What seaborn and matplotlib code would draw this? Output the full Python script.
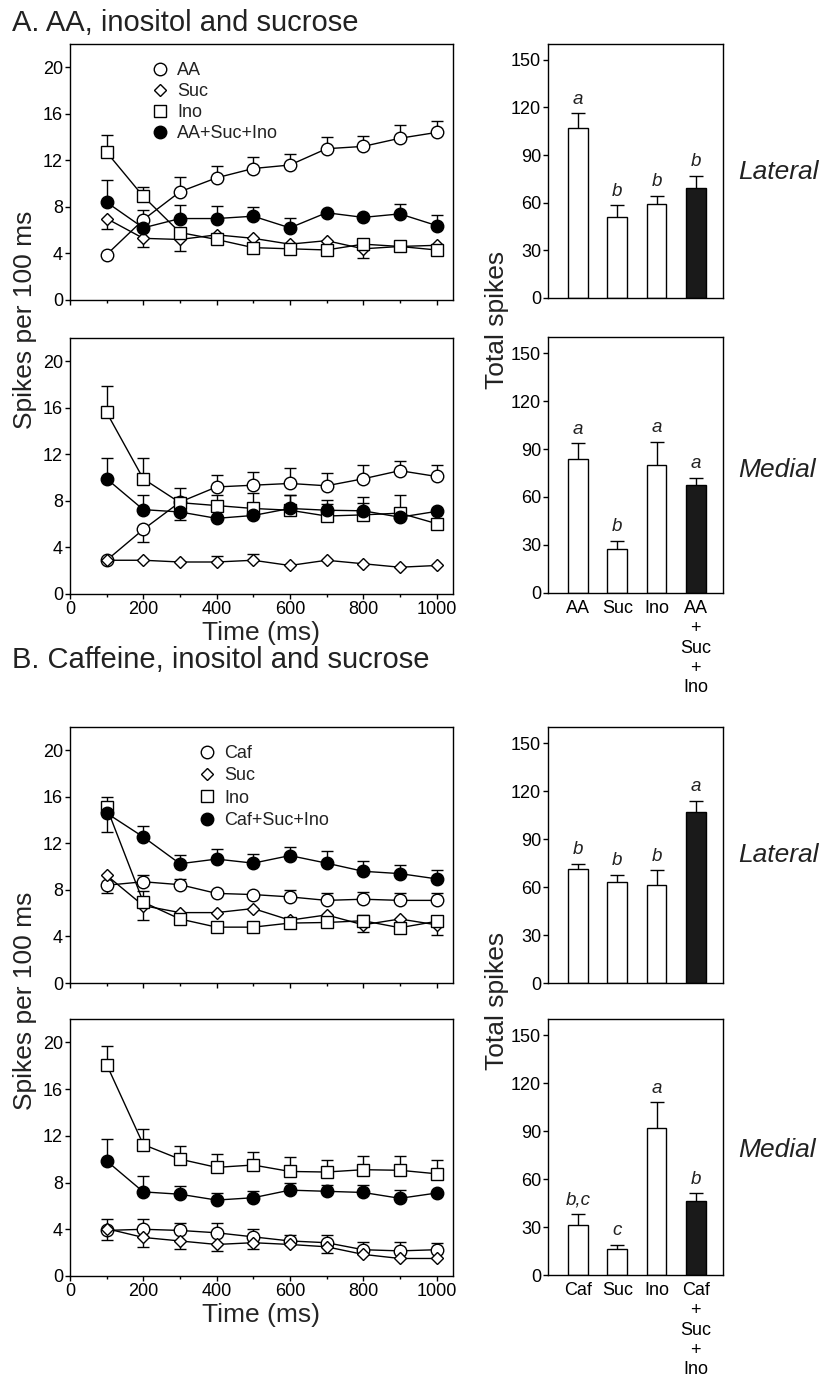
from matplotlib import pyplot as plt
from matplotlib.lines import Line2D
import numpy as np
import pandas as pd
import seaborn as sns

sns.set_style('ticks')
plt.rcParams['font.family'] = ['Liberation Sans', 'DejaVu Sans']
plt.rcParams['axes.edgecolor'] = 'black'
plt.rcParams['axes.linewidth'] = 1.0
plt.rcParams['xtick.color'] = 'black'
plt.rcParams['ytick.color'] = 'black'
plt.rcParams['text.color'] = '#222222'

time = [100, 200, 300, 400, 500, 600, 700, 800, 900, 1000]

# --- A: AA, inositol and sucrose (errors: + up, - down) ---
aa_lat = [3.9, 6.9, 9.3, 10.5, 11.3, 11.6, 13.0, 13.2, 13.9, 14.4]
aa_lat_err = [0, 0.85, 1.3, 1.05, 0.95, 0.95, 1.0, 0.9, 1.1, 0.95]
sucA_lat = [7.0, 5.3, 5.2, 5.6, 5.3, 4.8, 5.1, 4.4, 4.6, 4.7]
sucA_lat_err = [-0.9, -0.75, -1.0, 0, 0, 0, 0, -0.8, 0, 0]
inoA_lat = [12.7, 8.9, 5.8, 5.2, 4.5, 4.4, 4.3, 4.8, 4.6, 4.3]
inoA_lat_err = [1.5, 0.8, 0, 0, 0, 0, 0, 0, 0, 0]
mixA_lat = [8.4, 6.2, 7.0, 7.0, 7.2, 6.2, 7.5, 7.1, 7.4, 6.4]
mixA_lat_err = [1.9, 0, 1.15, 1.05, 0.8, 0.85, 0, 0, 0.85, 0.9]

aa_med = [2.9, 5.55, 7.9, 9.2, 9.35, 9.5, 9.3, 9.9, 10.6, 10.1]
aa_med_err = [0, -1.05, 0, 1.0, 1.15, 1.3, 1.1, 1.15, 0.85, 0.95]
sucA_med = [2.9, 2.9, 2.75, 2.75, 2.9, 2.45, 2.9, 2.6, 2.3, 2.45]
sucA_med_err = [0, 0, 0, 0.5, 0.5, 0, 0, 0, 0, 0]
inoA_med = [15.6, 9.9, 7.85, 7.6, 7.35, 7.2, 6.7, 6.8, 6.95, 6.05]
inoA_med_err = [2.3, 1.8, 1.3, 0.9, 1.3, 1.3, 1.0, 1.0, 1.6, 0]
mixA_med = [9.9, 7.25, 7.05, 6.5, 6.75, 7.35, 7.2, 7.15, 6.6, 7.1]
mixA_med_err = [1.8, 1.3, -0.7, 0, 0, 1.2, 0.9, 1.2, 0, 0]

# --- B: caffeine, inositol and sucrose ---
caf_lat = [8.4, 8.7, 8.45, 7.7, 7.6, 7.4, 7.1, 7.2, 7.1, 7.1]
caf_lat_err = [-0.7, 0.6, 0.5, 0, 0, 0.55, 0.6, 0.6, 0.6, 0.65]
sucB_lat = [9.25, 6.65, 6.05, 6.05, 6.4, 5.4, 5.85, 5.0, 5.5, 5.0]
sucB_lat_err = [0, -1.25, 0, 0, 0, 0, 0, -0.65, 0, -0.85]
inoB_lat = [15.1, 6.95, 5.5, 4.8, 4.8, 5.15, 5.2, 5.35, 4.75, 5.3]
inoB_lat_err = [0.85, 0.95, 0, 0, 0, 0, 0, 0.5, 0, 0]
mixB_lat = [14.6, 12.55, 10.25, 10.65, 10.3, 10.95, 10.3, 9.6, 9.4, 8.95]
mixB_lat_err = [-1.6, 0.95, 0.75, 0.9, 0.8, 0.75, 1.05, 0.9, 0.7, 0.75]

caf_med = [3.9, 4.0, 3.9, 3.7, 3.35, 3.0, 2.85, 2.25, 2.15, 2.25]
caf_med_err = [-0.85, 0.85, 0.65, 0.8, 0.65, 0.55, 0.65, 0.65, 0.75, 0.6]
sucB_med = [4.05, 3.3, 3.0, 2.7, 2.85, 2.7, 2.5, 1.85, 1.5, 1.5]
sucB_med_err = [0.85, -0.85, -0.65, -0.55, -0.55, 0, -0.55, 0, 0, 0]
inoB_med = [18.1, 11.25, 10.0, 9.3, 9.5, 8.95, 8.9, 9.1, 9.05, 8.75]
inoB_med_err = [1.55, 1.3, 1.1, 1.15, 1.1, 1.25, 1.05, 1.15, 1.2, 1.15]
mixB_med = [9.85, 7.2, 7.0, 6.5, 6.7, 7.35, 7.25, 7.15, 6.65, 7.1]
mixB_med_err = [1.85, 1.35, 0.7, 0.6, 0.55, 0.65, 0.5, 0.65, 0.7, 0]

# --- total spikes ---
condA = ['AA', 'Suc', 'Ino', 'AA\n+\nSuc\n+\nIno']
condB = ['Caf', 'Suc', 'Ino', 'Caf\n+\nSuc\n+\nIno']
totA_lat = [107, 51, 59, 69]
totA_lat_err = [9.5, 7.5, 5.5, 8]
totA_lat_let = ['a', 'b', 'b', 'b']
totA_med = [83.5, 27.5, 80, 67.5]
totA_med_err = [10, 5, 14.5, 4.5]
totA_med_let = ['a', 'b', 'a', 'a']
totB_lat = [71, 63, 61, 107]
totB_lat_err = [3.5, 4.5, 9.5, 7]
totB_lat_let = ['b', 'b', 'b', 'a']
totB_med = [31, 16.5, 92, 46.5]
totB_med_err = [7, 2.5, 16, 4.5]
totB_med_let = ['b,c', 'c', 'a', 'b']

W, H = 825, 1381
fig = plt.figure(figsize=(W / 100, H / 100), dpi=100)


def box(l, t, r, b):
    return [l / W, 1 - b / H, (r - l) / W, (b - t) / H]


styles = [('o', 9, 'white'), ('D', 6.5, 'white'), ('s', 8, 'white'), ('o', 9, 'black')]


def err_bars(ax, x, y, err, cap, z):
    x = np.asarray(x, float)
    y = np.asarray(y, float)
    err = np.asarray(err, float)
    up = np.clip(err, 0, None)
    dn = np.clip(-err, 0, None)
    ax.errorbar(x, y, yerr=[dn, up], fmt='none', ecolor='black',
                elinewidth=1, capsize=0, zorder=z)
    for sel, ends in [(up > 0, y + up), (dn > 0, y - dn)]:
        ax.plot(x[sel], ends[sel], ls='none', marker='_', ms=cap,
                mew=1, color='black', zorder=z)


def line_panel(ax, series, show_x):
    for (y, err), (mk, ms, face) in zip(series, styles):
        err_bars(ax, time, y, err, 9, 2)
        sns.lineplot(x=time, y=y, ax=ax, color='black', linewidth=1,
                     marker=mk, markersize=ms, markerfacecolor=face,
                     markeredgecolor='black', markeredgewidth=1,
                     errorbar=None, legend=False, zorder=3)
    ax.set_xlim(0, 1045)
    ax.set_ylim(0, 22)
    ax.set_xticks(range(0, 1001, 200))
    ax.set_xticks(range(100, 1000, 200), minor=True)
    ax.set_yticks(range(0, 21, 4))
    ax.tick_params(axis='both', which='major', length=3.5, width=1,
                   labelsize=13, pad=1.5)
    ax.tick_params(axis='x', which='minor', length=2.2, width=1)
    ax.tick_params(labelbottom=show_x)
    if show_x:
        ax.set_xlabel('Time (ms)', fontsize=19, labelpad=2)


def legend_panel(ax, names, x0, y0, gap):
    handles = [Line2D([], [], ls='none', marker=mk, ms=ms, mfc=face,
                      mec='black', mew=1) for mk, ms, face in styles]
    ax.legend(handles, names, loc='upper left', bbox_to_anchor=(x0, y0),
              frameon=False, fontsize=13, handlelength=1.0,
              handletextpad=0.45, labelspacing=gap, borderpad=0,
              borderaxespad=0)


def bar_panel(ax, conds, vals, errs, letters, show_x):
    df = pd.DataFrame({'cond': conds, 'val': vals})
    pal = dict(zip(conds, ['white', 'white', 'white', '#1a1a1a']))
    sns.barplot(data=df, x='cond', y='val', hue='cond', order=conds,
                hue_order=conds, palette=pal, dodge=False, width=0.5,
                saturation=1, edgecolor='black', linewidth=1,
                legend=False, ax=ax)
    err_bars(ax, range(len(vals)), vals, errs, 10, 3)
    for i, (v, e, t) in enumerate(zip(vals, errs, letters)):
        ax.annotate(t, (i, v + e), xytext=(0, 4), textcoords='offset points',
                    ha='center', va='bottom', style='italic', fontsize=13.5)
    ax.set_xlim(-0.76, 3.69)
    ax.set_ylim(0, 160)
    ax.set_yticks(range(0, 151, 30))
    ax.set_xlabel('')
    ax.set_ylabel('')
    ax.tick_params(axis='y', length=3.5, width=1, labelsize=13, pad=1.5)
    ax.tick_params(axis='x', length=0, labelsize=13, pad=5)
    ax.tick_params(labelbottom=show_x)
    if show_x:
        for lab in ax.get_xticklabels():
            lab.set_linespacing(1.22)
            lab.set_verticalalignment('top')


# panel A
axA1 = fig.add_axes(box(70, 44, 453, 300))
line_panel(axA1, [(aa_lat, aa_lat_err), (sucA_lat, sucA_lat_err),
                  (inoA_lat, inoA_lat_err), (mixA_lat, mixA_lat_err)], False)
legend_panel(axA1, ['AA', 'Suc', 'Ino', 'AA+Suc+Ino'], 0.212, 0.93, 0.22)
axA2 = fig.add_axes(box(70, 338, 453, 594))
line_panel(axA2, [(aa_med, aa_med_err), (sucA_med, sucA_med_err),
                  (inoA_med, inoA_med_err), (mixA_med, mixA_med_err)], True)

bA1 = fig.add_axes(box(548, 44, 723, 298))
bar_panel(bA1, condA, totA_lat, totA_lat_err, totA_lat_let, False)
bA2 = fig.add_axes(box(548, 337, 723, 593))
bar_panel(bA2, condA, totA_med, totA_med_err, totA_med_let, True)

# panel B
axB1 = fig.add_axes(box(70, 727, 453, 983))
line_panel(axB1, [(caf_lat, caf_lat_err), (sucB_lat, sucB_lat_err),
                  (inoB_lat, inoB_lat_err), (mixB_lat, mixB_lat_err)], False)
legend_panel(axB1, ['Caf', 'Suc', 'Ino', 'Caf+Suc+Ino'], 0.334, 0.93, 0.3)
axB2 = fig.add_axes(box(70, 1019, 453, 1276))
line_panel(axB2, [(caf_med, caf_med_err), (sucB_med, sucB_med_err),
                  (inoB_med, inoB_med_err), (mixB_med, mixB_med_err)], True)

bB1 = fig.add_axes(box(548, 727, 723, 983))
bar_panel(bB1, condB, totB_lat, totB_lat_err, totB_lat_let, False)
bB2 = fig.add_axes(box(548, 1019, 723, 1275))
bar_panel(bB2, condB, totB_med, totB_med_err, totB_med_let, True)

# titles and shared labels
fig.text(12 / W, 1 - 31 / H, 'A. AA, inositol and sucrose', fontsize=21,
         va='baseline')
fig.text(12 / W, 1 - 668 / H, 'B. Caffeine, inositol and sucrose',
         fontsize=21, va='baseline')
for yc in [320, 1001]:
    fig.text(25 / W, 1 - yc / H, 'Spikes per 100 ms', fontsize=19,
             rotation=90, ha='center', va='center')
    fig.text(497 / W, 1 - yc / H, 'Total spikes', fontsize=19,
             rotation=90, ha='center', va='center')
for yc, t in [(172, 'Lateral'), (470, 'Medial'), (855, 'Lateral'),
              (1150, 'Medial')]:
    fig.text(738 / W, 1 - yc / H, t, fontsize=19, style='italic',
             ha='left', va='center')

fig.savefig('out.png', dpi=100)
